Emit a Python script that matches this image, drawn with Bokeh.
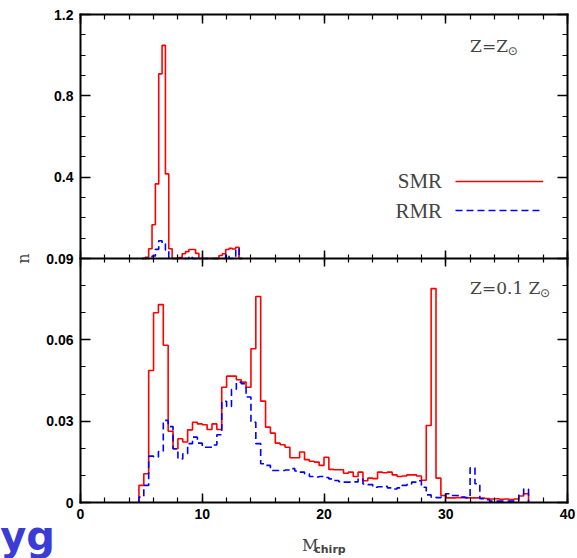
import numpy as np
from bokeh.plotting import figure
from bokeh.models import (Range1d, LinearAxis, FixedTicker, SingleIntervalTicker,
                          CustomJSTickFormatter, Label)
from bokeh.embed import file_html
from bokeh.resources import INLINE

# ---------------- data ----------------
# upper panel: Z = Z_sun, histogram bins (width 0.275) starting at 5.05
sol_bin_start = 5.05
sol_bin_width = 0.275
smr_sol = [0.0, 0.006, 0.048, 0.166, 0.367, 0.908, 1.048, 0.416, 0.048, 0.0,
           0.0, 0.005, 0.023, 0.034, 0.044, 0.044, 0.025, 0.0, 0.0, 0.0,
           0.0, 0.0, 0.0, 0.015, 0.023, 0.044, 0.050, 0.047, 0.055, 0.0]
rmr_sol = [0.0, 0.0, 0.004, 0.012, 0.045, 0.087, 0.072, 0.042, 0.0, 0.0,
           0.0, 0.0, 0.0, 0.0, 0.010, 0.0, 0.0, 0.0, 0.0, 0.0,
           0.0, 0.0, 0.0, 0.0, 0.0, 0.020, 0.0, 0.0, 0.048, 0.0]

# lower panel: Z = 0.1 Z_sun, histogram bins (width 0.4) starting at 4.8
low_bin_start = 4.8
low_bin_width = 0.4
smr_low = [0.0063, 0.0106, 0.0487, 0.0700, 0.0730, 0.0580, 0.0263, 0.0198, 0.0235, 0.0223,
           0.0268, 0.0296, 0.0290, 0.0287, 0.0269, 0.0290, 0.0269, 0.0425, 0.0466, 0.0466,
           0.0453, 0.0444, 0.0425, 0.0567, 0.0760, 0.0374, 0.0278, 0.0256, 0.0219, 0.0213,
           0.0204, 0.0165, 0.0165, 0.0186, 0.0158, 0.0152, 0.0149, 0.0137, 0.0167, 0.0122,
           0.0121, 0.0121, 0.0108, 0.0112, 0.0096, 0.0112, 0.0080, 0.0090, 0.0088, 0.0112,
           0.0110, 0.0112, 0.0102, 0.0096, 0.0098, 0.0102, 0.0102, 0.0098, 0.0082, 0.0284,
           0.0789, 0.0090, 0.0026, 0.0017, 0.0017, 0.0018, 0.0018, 0.0017, 0.0017, 0.0017,
           0.0016, 0.0015, 0.0013, 0.0014, 0.0012, 0.0013, 0.0011, 0.0013, 0.0024, 0.0032]
rmr_low = [0.0020, 0.0063, 0.0171, 0.0168, 0.0188, 0.0303, 0.0280, 0.0198, 0.0161, 0.0180,
           0.0217, 0.0241, 0.0219, 0.0204, 0.0204, 0.0212, 0.0250, 0.0373, 0.0354, 0.0418,
           0.0444, 0.0438, 0.0389, 0.0296, 0.0217, 0.0143, 0.0137, 0.0118, 0.0118, 0.0118,
           0.0120, 0.0125, 0.0116, 0.0112, 0.0106, 0.0096, 0.0094, 0.0096, 0.0092, 0.0087,
           0.0081, 0.0077, 0.0075, 0.0075, 0.0076, 0.0087, 0.0068, 0.0066, 0.0056, 0.0058,
           0.0060, 0.0054, 0.0050, 0.0054, 0.0063, 0.0066, 0.0075, 0.0080, 0.0056, 0.0028,
           0.0020, 0.0018, 0.0020, 0.0032, 0.0026, 0.0026, 0.0020, 0.0018, 0.0128, 0.0069,
           0.0014, 0.0010, 0.0005, 0.0005, 0.0005, 0.0005, 0.0005, 0.0006, 0.0030, 0.0050]

x_min, x_max = 0, 40
low_max = 0.09          # lower panel: n from 0 to 0.09
sol_max = 1.2           # upper panel: n from 0 to 1.2
low_major_ticks = [0, 0.03, 0.06, 0.09]
sol_major_ticks = [0.4, 0.8, 1.2]

RED = "#ff0000"
BLUE = "#0000ff"

# ---------------- layout (pixels of the canvas) ----------------
W, H = 577, 558
FX0, FX1 = 80, 567      # frame left / right
FY0, FY1 = 14, 502      # frame top / bottom (two stacked panels)

xpp = (x_max - x_min) / (FX1 - FX0)
ypp = (2 * low_max) / (FY1 - FY0)
xr = Range1d(x_min - FX0 * xpp, x_max + (W - FX1) * xpp)
yr = Range1d(0 - (H - FY1) * ypp, 2 * low_max + FY0 * ypp)
k = low_max / sol_max   # upper-panel units -> main (lower) units
top_range = Range1d((yr.start - low_max) / k, (yr.end - low_max) / k)


def outline(start, width, heights):
    h = np.asarray(heights, dtype=float)
    edges = start + width * np.arange(len(h) + 1)
    xs = np.repeat(edges, 2)
    ys = np.concatenate([[0.0], np.repeat(h, 2), [0.0]])
    return xs, ys


p = figure(width=W, height=H, x_range=xr, y_range=yr,
           x_axis_location=None, y_axis_location=None,
           output_backend="svg", toolbar_location=None, min_border=0,
           background_fill_color="white", border_fill_color="white")
p.extra_y_ranges = {"top": top_range}
p.grid.visible = False
p.outline_line_color = None

# ---------------- histograms ----------------
xs, ys = outline(sol_bin_start, sol_bin_width, smr_sol)
p.line(xs, ys, y_range_name="top", line_color=RED, line_width=1.6)
xs, ys = outline(sol_bin_start, sol_bin_width, rmr_sol)
p.line(xs, ys, y_range_name="top", line_color=BLUE, line_width=1.6, line_dash="7 4")

xs, ys = outline(low_bin_start, low_bin_width, smr_low)
p.line(xs, ys, line_color=RED, line_width=1.6)
xs, ys = outline(low_bin_start, low_bin_width, rmr_low)
p.line(xs, ys, line_color=BLUE, line_width=1.6, line_dash="7 4")

# ---------------- axes (all at fixed locations around the two boxes) ----------------
y_major = low_major_ticks + [low_max + k * v for v in sol_major_ticks]
y_minor = [0.01, 0.02, 0.04, 0.05, 0.07, 0.08] + \
          [low_max + k * v for v in [0.1, 0.2, 0.3, 0.5, 0.6, 0.7, 0.9, 1.0, 1.1]]

fmt = CustomJSTickFormatter(code="""
if (tick > 0.0905) { return ((tick - 0.09) / 0.075).toFixed(1); }
if (Math.abs(tick) < 1e-9) { return "0"; }
return tick.toFixed(2);
""")

LABEL_FONT = "Liberation Sans"


def style(ax, tin, tout, mtin, mtout, labels):
    ax.axis_line_width = 2
    ax.axis_line_color = "black"
    ax.axis_line_cap = "square"
    ax.major_tick_in = tin
    ax.major_tick_out = tout
    ax.minor_tick_in = mtin
    ax.minor_tick_out = mtout
    ax.major_tick_line_width = 1.5
    ax.minor_tick_line_width = 1.2
    ax.major_tick_line_color = "black"
    ax.minor_tick_line_color = "black"
    ax.major_label_text_font = LABEL_FONT
    ax.major_label_text_font_style = "bold"
    ax.major_label_text_font_size = "14px"
    if labels:
        ax.major_label_text_color = "black"
    else:
        ax.major_label_text_color = None   # tick marks only, no labels drawn
        ax.major_label_standoff = 0


def yticker():
    return FixedTicker(ticks=y_major, minor_ticks=y_minor)


def xticker():
    return SingleIntervalTicker(interval=10, num_minor_ticks=5)


left = LinearAxis(ticker=yticker(), formatter=fmt, fixed_location=x_min, bounds=(0, 2 * low_max))
style(left, 10, 0, 5, 0, True)
left.major_label_standoff = 7
p.add_layout(left, "left")

right = LinearAxis(ticker=yticker(), fixed_location=x_max, bounds=(0, 2 * low_max))
style(right, 10, 0, 5, 0, False)
p.add_layout(right, "right")

below = LinearAxis(ticker=xticker(), fixed_location=0, bounds=(x_min, x_max))
style(below, 9, 0, 5, 0, True)
below.major_label_standoff = 6
p.add_layout(below, "below")

above = LinearAxis(ticker=xticker(), fixed_location=2 * low_max, bounds=(x_min, x_max))
style(above, 9, 0, 5, 0, False)
p.add_layout(above, "above")

middle = LinearAxis(ticker=xticker(), fixed_location=low_max, bounds=(x_min, x_max))
style(middle, 8, 8, 4, 4, False)
p.add_layout(middle, "below")

# ---------------- texts ----------------
SERIF = "DejaVu Serif"


def top_y(v):
    return low_max + k * v


p.add_layout(Label(x=32.0, y=top_y(1.045), text="Z=Z", text_font=SERIF,
                   text_font_size="17px", text_align="left", text_baseline="alphabetic"))
p.add_layout(Label(x=35.1, y=top_y(1.02), text="⊙", text_font="DejaVu Sans",
                   text_font_size="12px", text_align="left", text_baseline="middle"))

p.add_layout(Label(x=32.0, y=0.0790, text="Z=0.1 Z", text_font=SERIF,
                   text_font_size="17px", text_align="left", text_baseline="alphabetic"))
p.add_layout(Label(x=37.75, y=0.0771, text="⊙", text_font="DejaVu Sans",
                   text_font_size="12px", text_align="left", text_baseline="middle"))

# legend (text left of the sample line)
leg_x0, leg_x1 = 30.8, 38.0
leg_y_smr, leg_y_rmr = 0.379, 0.236
p.add_layout(Label(x=29.7, y=top_y(leg_y_smr), text="SMR", text_font="Liberation Serif",
                   text_font_size="21px", text_align="right", text_baseline="middle"))
p.add_layout(Label(x=29.7, y=top_y(leg_y_rmr), text="RMR", text_font="Liberation Serif",
                   text_font_size="21px", text_align="right", text_baseline="middle"))
p.line([leg_x0, leg_x1], [leg_y_smr, leg_y_smr], y_range_name="top", line_color=RED, line_width=1.6)
p.line([leg_x0, leg_x1], [leg_y_rmr, leg_y_rmr], y_range_name="top", line_color=BLUE,
       line_width=1.6, line_dash="7 4")

# axis titles
p.add_layout(Label(x=-4.7, y=low_max, text="n", text_font=SERIF, text_font_size="16px",
                   angle=np.pi / 2, text_align="center", text_baseline="middle"))
p.add_layout(Label(x=18.2, y=-0.0159, text="M", text_font=SERIF, text_font_size="16px",
                   text_align="left", text_baseline="alphabetic"))
p.add_layout(Label(x=19.2, y=-0.0173, text="chirp", text_font="DejaVu Sans",
                   text_font_style="bold", text_font_size="11px",
                   text_align="left", text_baseline="alphabetic"))

# stray blue fragment at the lower left
p.add_layout(Label(x=-2.1, y=-0.0122, text="yg", text_font="DejaVu Sans",
                   text_font_style="bold", text_font_size="40px", text_color="#3b3bd6",
                   text_align="right", text_baseline="alphabetic"))

open("out.html", "w").write(file_html(p, INLINE))
